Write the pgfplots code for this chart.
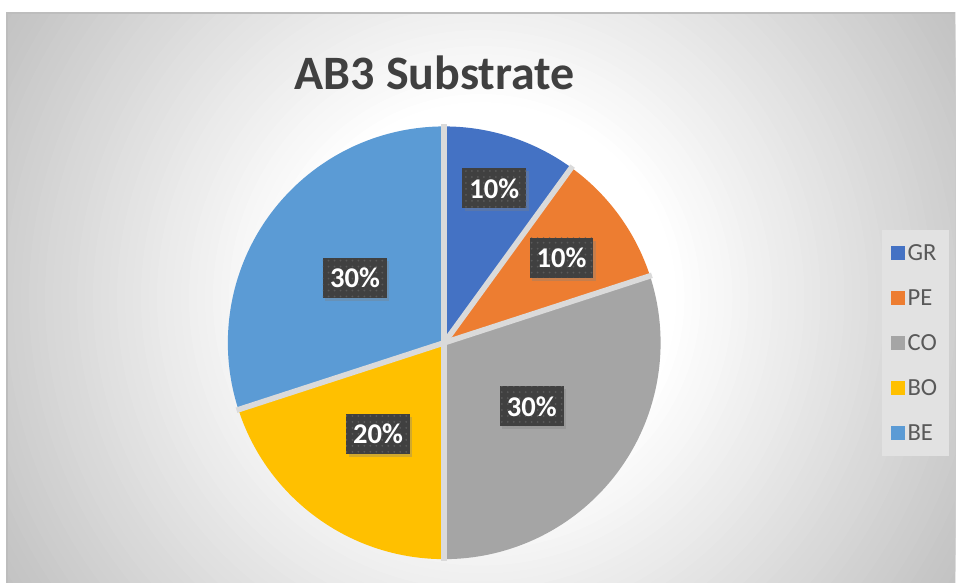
\documentclass[border=0pt]{standalone}
\usepackage{fontspec}
\setmainfont{Carlito}
\usepackage{pgfplots}
\usepackage{pgfplotstable}
\pgfplotsset{compat=1.18}
\usetikzlibrary{shadows,patterns}

\definecolor{cGR}{HTML}{4472C4}
\definecolor{cPE}{HTML}{ED7D31}
\definecolor{cCO}{HTML}{A5A5A5}
\definecolor{cBO}{HTML}{FFC000}
\definecolor{cBE}{HTML}{5B9BD5}
\definecolor{gapc}{HTML}{DADADA}
\definecolor{lblbg}{HTML}{404040}
\definecolor{lbldot}{HTML}{5A5A5A}
\definecolor{titlec}{HTML}{404040}
\definecolor{legtext}{HTML}{595959}
\definecolor{legbg}{HTML}{E2E2E2}
\definecolor{bgouter}{HTML}{C2C2C2}
\definecolor{framec}{HTML}{BDBDBD}

% share of each substrate, in %, clockwise from 12 o'clock
\pgfplotstableread{
name value color lr
GR 10 cGR 0.75
PE 10 cPE 0.67
CO 30 cCO 0.50
BO 20 cBO 0.52
BE 30 cBE 0.51
}\piedata

\tikzset{
  pielabel/.style={fill=lblbg, text=white,
    font=\bfseries\fontsize{14.3bp}{17bp}\selectfont,
    minimum width=32bp, minimum height=20bp, inner sep=0pt,
    drop shadow={shadow xshift=1.2bp, shadow yshift=-1.5bp, opacity=0.35},
    postaction={pattern=dots, pattern color=lbldot}},
  gap/.style={gapc, line width=2.8bp},
}

\begin{document}
\begin{tikzpicture}
% chart background (1px = 0.5bp, origin at the lower left): radial grey to white
\fill[white] (0bp,0bp) rectangle (478bp,291.5bp);
\begin{scope}
  \clip (3.5bp,0bp) rectangle (478bp,285bp);
  \foreach \k in {0,...,45}{
    \pgfmathsetmacro\rr{556-8*\k}
    \pgfmathtruncatemacro\tt{max(0,min(100,(\rr-195)/3.61))}
    \fill[bgouter!\tt!white] (240.5bp,142.5bp) circle (\rr*0.5bp);
  }
\end{scope}
\draw[framec, line width=0.6bp] (3.5bp,0bp) -- (3.5bp,285bp) -- (478bp,285bp);

\begin{axis}[
  at={(0bp,0bp)}, anchor=south west,
  hide axis, scale only axis,
  width=478bp, height=291.5bp,
  xmin=0, xmax=956, ymin=0, ymax=583,
  clip=false,
  legend image code/.code={\fill[#1,draw=none] (0bp,-3.5bp) rectangle (7bp,3.5bp);},
  legend cell align=left,
  legend style={at={(axis cs:916,240)}, anchor=center, draw=none, fill=legbg,
    font=\fontsize{12.3bp}{14bp}\selectfont, text=legtext,
    row sep=10.5bp, inner xsep=4.5bp, inner ysep=5.5bp,
    /tikz/every even column/.append style={column sep=3bp},
    nodes={inner sep=1.5bp, text height=8.5bp, text depth=0.5bp}},
]
\node[font=\bfseries\fontsize{24bp}{28bp}\selectfont, text=titlec, anchor=base]
  at (axis cs:435,493) {AB3 Substrate};

\def\pieR{108.25}
% slices
\def\cum{0}
\pgfplotsforeachungrouped \i in {0,...,4}{%
  \pgfplotstablegetelem{\i}{value}\of\piedata \let\pval\pgfplotsretval
  \pgfplotstablegetelem{\i}{color}\of\piedata \let\pcol\pgfplotsretval
  \pgfmathsetmacro\pa{90-3.6*\cum}%
  \pgfmathsetmacro\pb{90-3.6*(\cum+\pval)}%
  \edef\temp{\noexpand\fill[\pcol] (axis cs:444.5,240) -- ++(\pa:\pieR bp)
    arc[start angle=\pa, end angle=\pb, radius=\pieR bp] -- cycle;}%
  \temp
  \pgfmathsetmacro\cum{\cum+\pval}%
}
% gaps between slices
\def\cum{0}
\pgfplotsforeachungrouped \i in {0,...,4}{%
  \pgfplotstablegetelem{\i}{value}\of\piedata \let\pval\pgfplotsretval
  \pgfmathsetmacro\pa{90-3.6*\cum}%
  \edef\temp{\noexpand\draw[gap] (axis cs:444.5,240) -- ++(\pa:\pieR bp+1bp);}%
  \temp
  \pgfmathsetmacro\cum{\cum+\pval}%
}
% data labels
\def\cum{0}
\pgfplotsforeachungrouped \i in {0,...,4}{%
  \pgfplotstablegetelem{\i}{value}\of\piedata \let\pval\pgfplotsretval
  \pgfplotstablegetelem{\i}{lr}\of\piedata \let\plr\pgfplotsretval
  \pgfmathsetmacro\pmid{90-3.6*(\cum+\pval/2)}%
  \pgfmathsetmacro\pld{\plr*\pieR}%
  \pgfmathtruncatemacro\pct{\pval}%
  \edef\temp{\noexpand\path (axis cs:444.5,240) ++(\pmid:\pld bp)
    node[pielabel] {\pct\noexpand\%};}%
  \temp
  \pgfmathsetmacro\cum{\cum+\pval}%
}

\addlegendimage{fill=cGR}\addlegendentry{GR}
\addlegendimage{fill=cPE}\addlegendentry{PE}
\addlegendimage{fill=cCO}\addlegendentry{CO}
\addlegendimage{fill=cBO}\addlegendentry{BO}
\addlegendimage{fill=cBE}\addlegendentry{BE}
\end{axis}
\end{tikzpicture}
\end{document}
